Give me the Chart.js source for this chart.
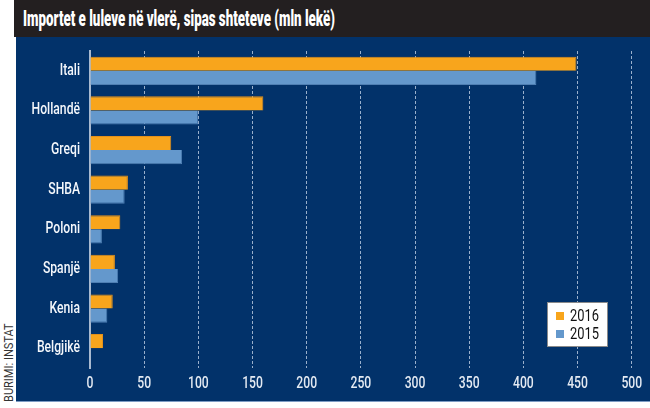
<!DOCTYPE html>
<html>
<head>
<meta charset="utf-8">
<script src="https://cdn.jsdelivr.net/npm/chart.js@4"></script>
<style>
  body { margin: 0; background: #fff; }
  #wrap { position: relative; width: 650px; height: 408px; overflow: hidden; }
  #title {
    position: absolute; left: 14px; top: 0; width: 636px; height: 37px;
    background: #231f20;
  }
  #title span {
    position: absolute; left: 9px; top: 6px; white-space: nowrap;
    color: #fff; font: 900 22px Roboto, sans-serif;
    transform-origin: left top;
  }
  #panel {
    position: absolute; left: 16px; top: 37px; width: 634px; height: 364px;
    background: #02326a; border-bottom: 1px solid #7d9cc4;
  }
  #source {
    position: absolute; left: 1px; top: 402px; white-space: nowrap;
    transform: rotate(-90deg) scale(0.85, 1); transform-origin: left top;
    color: #333; font: 13px Roboto, sans-serif;
  }
</style>
</head>
<body>
<div id="wrap">
  <div id="title"><span id="titleText">Importet e luleve në vlerë, sipas shteteve (mln lekë)</span></div>
  <div id="panel"><canvas id="chart" width="634" height="364"></canvas></div>
  <div id="source">BURIMI: INSTAT</div>
</div>
<script>
const countries = ["Itali", "Hollandë", "Greqi", "SHBA", "Poloni", "Spanjë", "Kenia", "Belgjikë"];
const values2016 = [449, 160, 75, 35, 28, 23, 21, 12];
const values2015 = [412, 100, 85, 32, 11, 26, 16, 0];
const xTicks = [0, 50, 100, 150, 200, 250, 300, 350, 400, 450, 500];

// squeeze the title into a condensed look
const t = document.getElementById("titleText");
t.style.transform = "scaleX(" + (312 / t.offsetWidth) + ")";

const labelFont = "500 16px Roboto, sans-serif";
const squeeze = 0.76;

function condensedText(ctx, text, x, y, align) {
  ctx.save();
  ctx.translate(x, y);
  ctx.scale(squeeze, 1);
  ctx.textAlign = align;
  ctx.fillText(text, 0, 0);
  ctx.restore();
}

// axis labels drawn narrow, like the condensed face of the original
const axisLabels = {
  id: "axisLabels",
  afterDraw(chart) {
    const ctx = chart.ctx;
    const a = chart.chartArea;
    ctx.save();
    ctx.font = labelFont;
    ctx.textBaseline = "middle";
    ctx.fillStyle = "#f4f7fb";
    const ys = chart.scales.y;
    chart.data.labels.forEach((lab, i) => {
      condensedText(ctx, lab, a.left - 10, ys.getPixelForTick(i), "right");
    });
    ctx.fillStyle = "#e4eaf2";
    const xs = chart.scales.x;
    xs.ticks.forEach((tk) => {
      condensedText(ctx, String(tk.value), xs.getPixelForValue(tk.value), a.bottom + 16, "center");
    });
    ctx.restore();
  }
};

// legend box drawn inside the plot area, bottom right
const boxLegend = {
  id: "boxLegend",
  afterDraw(chart) {
    const ctx = chart.ctx;
    const a = chart.chartArea;
    const w = 61, h = 45;
    const x = a.right - 40 - w, y = a.bottom - 21 - h;
    ctx.save();
    ctx.fillStyle = "#fff";
    ctx.strokeStyle = "#8a8a8a";
    ctx.lineWidth = 1;
    ctx.fillRect(x, y, w, h);
    ctx.strokeRect(x + 0.5, y + 0.5, w - 1, h - 1);
    ctx.font = "17px Roboto, sans-serif";
    ctx.textBaseline = "middle";
    chart.data.datasets.forEach((ds, i) => {
      const cy = y + 14 + i * 18;
      ctx.fillStyle = ds.backgroundColor;
      ctx.fillRect(x + 9, cy - 4, 8, 8);
      ctx.fillStyle = "#111";
      condensedText(ctx, ds.label, x + 23, cy + 1, "left");
    });
    ctx.restore();
  }
};

new Chart(document.getElementById("chart"), {
  type: "bar",
  data: {
    labels: countries,
    datasets: [
      {
        label: "2016",
        data: values2016,
        backgroundColor: "#f8a51c",
        borderColor: "#e3901a",
        borderWidth: { top: 1, right: 1, bottom: 0, left: 0 },
        borderSkipped: "start",
      },
      {
        label: "2015",
        data: values2015,
        backgroundColor: "#6498cc",
        borderColor: "#4f7fb3",
        borderWidth: { top: 0, right: 1, bottom: 1, left: 0 },
        borderSkipped: "start",
      },
    ],
  },
  options: {
    indexAxis: "y",
    responsive: false,
    animation: false,
    layout: { padding: { left: 0, right: 2, top: 14, bottom: 0 } },
    plugins: { legend: { display: false }, tooltip: { enabled: false } },
    datasets: { bar: { categoryPercentage: 0.71, barPercentage: 1.0 } },
    scales: {
      x: {
        min: 0,
        max: 515,
        afterBuildTicks: (scale) => {
          scale.ticks = xTicks.map((v) => ({ value: v }));
        },
        afterFit: (scale) => { scale.height = 33; },
        grid: {
          color: (c) => (c.tick && c.tick.value === 0 ? "transparent" : "#9ab0cc"),
          lineWidth: 1,
          drawTicks: false,
        },
        border: { display: false, dash: [3, 2] },
        ticks: { display: false },
      },
      y: {
        afterFit: (scale) => { scale.width = 74; },
        grid: { display: false },
        border: { display: true, color: "#a9bad0", width: 2 },
        ticks: { display: false },
      },
    },
  },
  plugins: [axisLabels, boxLegend],
});
</script>
</body>
</html>
